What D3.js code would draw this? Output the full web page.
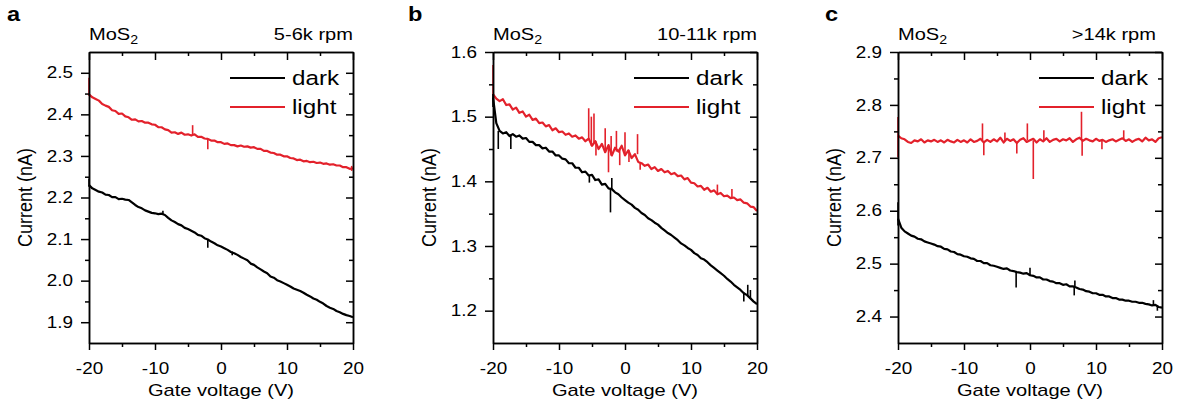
<!DOCTYPE html>
<html>
<head>
<meta charset="utf-8">
<script src="https://cdn.jsdelivr.net/npm/d3@7"></script>
<style>
  body { margin: 0; background: #fff; }
  text { font-family: "Liberation Sans", Arial, sans-serif; fill: #000; }
</style>
</head>
<body>
<svg id="chart" width="1180" height="409"></svg>
<script>
// gate voltage sweep (V)
const voltage = [-20,-19.5,-19,-18.5,-18,-17.5,-17,-16.5,-16,-15.5,
  -15,-14.5,-14,-13.5,-13,-12.5,-12,-11.5,-11,-10.5,
  -10,-9.5,-9,-8.5,-8,-7.5,-7,-6.5,-6,-5.5,
  -5,-4.5,-4,-3.5,-3,-2.5,-2,-1.5,-1,-0.5,
  0,0.5,1,1.5,2,2.5,3,3.5,4,4.5,
  5,5.5,6,6.5,7,7.5,8,8.5,9,9.5,
  10,10.5,11,11.5,12,12.5,13,13.5,14,14.5,
  15,15.5,16,16.5,17,17.5,18,18.5,19,19.5,
  20];

// panel a : 5-6k rpm
const lightA = [2.448,2.441,2.437,2.433,2.425,2.421,2.418,2.410,2.408,2.401,
  2.402,2.395,2.393,2.387,2.388,2.383,2.384,2.380,2.380,2.376,
  2.375,2.369,2.369,2.364,2.362,2.356,2.357,2.353,2.356,2.351,
  2.352,2.349,2.352,2.346,2.346,2.342,2.341,2.337,2.337,2.333,
  2.333,2.329,2.330,2.326,2.326,2.323,2.325,2.322,2.323,2.320,
  2.321,2.317,2.317,2.312,2.312,2.308,2.307,2.303,2.303,2.299,
  2.299,2.295,2.294,2.290,2.291,2.287,2.288,2.285,2.286,2.283,
  2.284,2.281,2.282,2.279,2.280,2.277,2.277,2.273,2.273,2.269,
  2.270];
const darkA = [2.230,2.222,2.218,2.214,2.212,2.207,2.206,2.201,2.201,2.196,
  2.197,2.195,2.194,2.188,2.182,2.177,2.174,2.169,2.166,2.163,
  2.162,2.160,2.161,2.158,2.151,2.145,2.141,2.136,2.133,2.127,
  2.124,2.120,2.116,2.110,2.108,2.102,2.099,2.094,2.090,2.085,
  2.082,2.078,2.074,2.069,2.066,2.062,2.057,2.053,2.049,2.041,
  2.038,2.032,2.027,2.022,2.018,2.010,2.007,2.001,1.998,1.994,
  1.990,1.986,1.981,1.978,1.975,1.971,1.966,1.962,1.957,1.954,
  1.949,1.945,1.939,1.935,1.932,1.927,1.924,1.920,1.917,1.915,
  1.912];
// spikes: [voltage, from, to]
const lightSpikesA = [[-20, 2.445, 2.488], [-4.3, 2.350, 2.374], [-2.0, 2.341, 2.316], [19.8, 2.264, 2.276]];
const darkSpikesA = [[-20, 2.226, 2.246], [-8.8, 2.158, 2.168], [-2.0, 2.100, 2.079], [1.7, 2.070, 2.061]];

// panel b : 10-11k rpm
const lightB = [1.535,1.528,1.524,1.527,1.518,1.519,1.511,1.514,1.506,1.508,
  1.500,1.503,1.495,1.497,1.490,1.491,1.485,1.487,1.479,1.482,
  1.476,1.477,1.472,1.474,1.469,1.471,1.466,1.468,1.462,1.466,
  1.455,1.462,1.450,1.458,1.445,1.456,1.440,1.452,1.446,1.455,
  1.440,1.448,1.436,1.442,1.430,1.428,1.424,1.426,1.419,1.422,
  1.416,1.419,1.414,1.416,1.411,1.413,1.408,1.409,1.403,1.405,
  1.398,1.397,1.392,1.393,1.387,1.390,1.384,1.386,1.380,1.382,
  1.377,1.378,1.374,1.375,1.371,1.372,1.367,1.366,1.361,1.360,
  1.354];
const darkB = [1.530,1.490,1.478,1.474,1.476,1.470,1.473,1.469,1.471,1.466,
  1.467,1.461,1.461,1.456,1.456,1.451,1.452,1.446,1.446,1.440,
  1.440,1.435,1.434,1.428,1.428,1.421,1.421,1.414,1.415,1.409,
  1.410,1.402,1.403,1.395,1.396,1.389,1.388,1.383,1.380,1.375,
  1.371,1.367,1.364,1.359,1.356,1.351,1.348,1.343,1.340,1.336,
  1.333,1.328,1.324,1.320,1.317,1.313,1.309,1.304,1.301,1.297,
  1.294,1.289,1.286,1.281,1.279,1.275,1.270,1.266,1.262,1.258,
  1.254,1.249,1.245,1.240,1.236,1.232,1.227,1.224,1.219,1.214,
  1.210];
const lightSpikesB = [[-20, 1.530, 1.580], [-5.5, 1.465, 1.513], [-5.1, 1.455, 1.500], [-4.7, 1.460, 1.505],
  [-4.4, 1.462, 1.440], [-3.0, 1.445, 1.482], [-2.5, 1.456, 1.414], [-2.1, 1.440, 1.470],
  [-1.3, 1.446, 1.478], [-0.8, 1.450, 1.425], [0.0, 1.440, 1.476], [0.6, 1.448, 1.430],
  [1.9, 1.442, 1.473], [2.3, 1.430, 1.418], [14.0, 1.381, 1.395], [16.2, 1.374, 1.388]];
const darkSpikesB = [[-20, 1.515, 1.535], [-19.2, 1.478, 1.450], [-17.3, 1.472, 1.450], [-5.4, 1.409, 1.398],
  [-2.2, 1.389, 1.352], [-2.0, 1.388, 1.405], [18.0, 1.228, 1.214], [18.6, 1.224, 1.240], [19.0, 1.219, 1.232]];

// panel c : >14k rpm
const lightC = [2.742,2.737,2.735,2.730,2.728,2.733,2.731,2.735,2.729,2.733,
  2.731,2.734,2.730,2.733,2.729,2.734,2.731,2.729,2.734,2.730,
  2.733,2.729,2.735,2.730,2.732,2.736,2.729,2.734,2.730,2.735,
  2.731,2.738,2.729,2.736,2.732,2.735,2.728,2.734,2.737,2.730,
  2.733,2.736,2.729,2.735,2.731,2.737,2.730,2.734,2.736,2.731,
  2.735,2.733,2.737,2.730,2.735,2.738,2.732,2.736,2.733,2.731,
  2.736,2.732,2.734,2.730,2.733,2.735,2.731,2.734,2.737,2.732,
  2.735,2.730,2.734,2.736,2.731,2.738,2.733,2.735,2.730,2.737,
  2.739];
const darkC = [2.585,2.568,2.561,2.557,2.553,2.551,2.547,2.546,2.542,2.540,
  2.538,2.536,2.533,2.532,2.528,2.527,2.523,2.522,2.518,2.517,
  2.514,2.513,2.510,2.509,2.505,2.505,2.501,2.501,2.497,2.496,
  2.494,2.492,2.490,2.491,2.487,2.486,2.484,2.483,2.481,2.482,
  2.478,2.477,2.474,2.474,2.470,2.470,2.467,2.466,2.463,2.463,
  2.460,2.461,2.457,2.457,2.455,2.452,2.451,2.448,2.447,2.444,
  2.444,2.441,2.441,2.438,2.438,2.435,2.435,2.432,2.432,2.430,
  2.430,2.428,2.428,2.426,2.426,2.424,2.423,2.421,2.422,2.418,
  2.417];
const lightSpikesC = [[-20, 2.701, 2.777], [-7.2, 2.733, 2.765], [-7.0, 2.732, 2.705], [-3.8, 2.733, 2.748],
  [-2.0, 2.730, 2.708], [-0.4, 2.733, 2.765], [0.5, 2.733, 2.660], [2.1, 2.733, 2.752],
  [7.8, 2.735, 2.787], [7.9, 2.735, 2.704], [10.9, 2.733, 2.716], [14.2, 2.734, 2.752]];
const darkSpikesC = [[-20, 2.572, 2.616], [-2.1, 2.485, 2.455], [0.0, 2.478, 2.492], [6.7, 2.457, 2.440],
  [6.8, 2.457, 2.468], [18.7, 2.421, 2.431], [19.3, 2.420, 2.411]];

// axes
const xMajor = [-20, -10, 0, 10, 20];
const xMinor = [-15, -5, 5, 15];
const yDomainA = [1.85, 2.55], yMajorA = [1.9, 2.0, 2.1, 2.2, 2.3, 2.4, 2.5], yMinorA = [1.95, 2.05, 2.15, 2.25, 2.35, 2.45];
const yDomainB = [1.15, 1.6], yMajorB = [1.2, 1.3, 1.4, 1.5, 1.6], yMinorB = [1.25, 1.35, 1.45, 1.55];
const yDomainC = [2.35, 2.9], yMajorC = [2.4, 2.5, 2.6, 2.7, 2.8, 2.9], yMinorC = [2.45, 2.55, 2.65, 2.75, 2.85];
const letters = ["a", "b", "c"];
const speeds = ["5-6k rpm", "10-11k rpm", ">14k rpm"];
const seriesNames = ["dark", "light"];

const panels = [
  { letter: letters[0], speed: speeds[0], yDomain: yDomainA, yMajor: yMajorA, yMinor: yMinorA,
    dark: darkA, light: lightA, darkSpikes: darkSpikesA, lightSpikes: lightSpikesA },
  { letter: letters[1], speed: speeds[1], yDomain: yDomainB, yMajor: yMajorB, yMinor: yMinorB,
    dark: darkB, light: lightB, darkSpikes: darkSpikesB, lightSpikes: lightSpikesB },
  { letter: letters[2], speed: speeds[2], yDomain: yDomainC, yMajor: yMajorC, yMinor: yMinorC,
    dark: darkC, light: lightC, darkSpikes: darkSpikesC, lightSpikes: lightSpikesC }
];

// layout of the three boxes
const layout = [
  { left: 89, letterX: 7, speedShift: 0 },
  { left: 493, letterX: 408, speedShift: 0 },
  { left: 898, letterX: 825, speedShift: -6 }
];
const plotW = 264, plotTop = 52, plotBottom = 343;
const RED = "#e3212b";
const STRETCH = 1.18; // the original figure is a bit wider than tall

const svg = d3.select("#chart");
svg.append("rect").attr("width", 1180).attr("height", 409).attr("fill", "#fff");

function widen(sel) {
  sel.each(function () {
    const w = this.getComputedTextLength();
    d3.select(this).attr("textLength", w * STRETCH).attr("lengthAdjust", "spacingAndGlyphs");
  });
}

function styleAxis(g) {
  g.selectAll("path, line").attr("stroke", "#000").attr("stroke-width", 1.5);
  g.selectAll("text").attr("font-size", 16).attr("fill", "#000")
    .style("font-family", "'Liberation Sans', Arial, sans-serif");
}

// plain hyphen for negative numbers, like the original
const fmtX = d => String(d);

panels.forEach((p, i) => {
  const L = layout[i];
  const left = L.left, right = L.left + plotW;

  const x = d3.scaleLinear().domain([-20, 20]).range([left, right]);
  const y = d3.scaleLinear().domain(p.yDomain).range([plotBottom, plotTop]);

  const line = d3.line().x(d => x(d[0])).y(d => y(d[1]));

  // curves
  const darkPts = voltage.map((v, k) => [v, p.dark[k]]);
  const lightPts = voltage.map((v, k) => [v, p.light[k]]);

  [[lightPts, p.lightSpikes, RED], [darkPts, p.darkSpikes, "#000"]].forEach(([pts, spikes, col]) => {
    svg.append("path")
      .datum(pts)
      .attr("d", line)
      .attr("fill", "none")
      .attr("stroke", col)
      .attr("stroke-width", 2.2)
      .attr("stroke-linejoin", "round");

    svg.selectAll(null)
      .data(spikes)
      .enter().append("line")
      .attr("x1", d => x(d[0])).attr("x2", d => x(d[0]))
      .attr("y1", d => y(d[1])).attr("y2", d => y(d[2]))
      .attr("stroke", col)
      .attr("stroke-width", 1.6);
  });

  // axes: ticks out on left/bottom, in on top/right
  const gB = svg.append("g").attr("transform", `translate(0,${plotBottom})`);
  gB.append("g").call(d3.axisBottom(x).tickValues(xMajor).tickSize(7).tickSizeOuter(0)
    .tickPadding(12.5).tickFormat(fmtX));
  gB.append("g").call(d3.axisBottom(x).tickValues(xMinor).tickSize(4).tickSizeOuter(0).tickFormat(""));
  styleAxis(gB);

  const gT = svg.append("g").attr("transform", `translate(0,${plotTop})`);
  gT.append("g").call(d3.axisTop(x).tickValues(xMajor).tickSize(-8).tickSizeOuter(0).tickFormat(""));
  gT.append("g").call(d3.axisTop(x).tickValues(xMinor).tickSize(-4).tickSizeOuter(0).tickFormat(""));
  styleAxis(gT);

  const gL = svg.append("g").attr("transform", `translate(${left},0)`);
  gL.append("g").call(d3.axisLeft(y).tickValues(p.yMajor).tickSize(8).tickSizeOuter(0)
    .tickPadding(8).tickFormat(d3.format(".1f")));
  gL.append("g").call(d3.axisLeft(y).tickValues(p.yMinor).tickSize(4).tickSizeOuter(0).tickFormat(""));
  styleAxis(gL);

  const gR = svg.append("g").attr("transform", `translate(${right},0)`);
  gR.append("g").call(d3.axisRight(y).tickValues(p.yMajor).tickSize(-7).tickSizeOuter(0).tickFormat(""));
  gR.append("g").call(d3.axisRight(y).tickValues(p.yMinor).tickSize(-4).tickSizeOuter(0).tickFormat(""));
  styleAxis(gR);

  widen(gB.selectAll("text"));
  widen(gL.selectAll("text"));

  // legend
  const leg = svg.append("g");
  seriesNames.forEach((name, k) => {
    const ly = 78 + k * 29;
    leg.append("line")
      .attr("x1", left + 141).attr("x2", left + 196)
      .attr("y1", ly).attr("y2", ly)
      .attr("stroke", k === 0 ? "#000" : RED)
      .attr("stroke-width", 2);
    leg.append("text")
      .attr("x", left + 203).attr("y", ly + 7)
      .attr("font-size", 20.5)
      .text(name);
  });
  widen(leg.selectAll("text"));

  // headings
  const mo = svg.append("text").attr("x", left).attr("y", 40).attr("font-size", 17);
  mo.append("tspan").text("MoS");
  mo.append("tspan").attr("font-size", 12).attr("dy", 4).text("2");
  widen(mo);

  const sp = svg.append("text")
    .attr("x", right + L.speedShift).attr("y", 40)
    .attr("text-anchor", "end")
    .attr("font-size", 17)
    .text(p.speed);
  widen(sp);

  const lt = svg.append("text")
    .attr("x", L.letterX).attr("y", 21)
    .attr("font-size", 20)
    .attr("font-weight", "bold")
    .text(p.letter);
  widen(lt);

  // axis titles
  const xt = svg.append("text")
    .attr("x", (left + right) / 2).attr("y", 396)
    .attr("text-anchor", "middle")
    .attr("font-size", 17)
    .text("Gate voltage (V)");
  widen(xt);

  svg.append("text")
    .attr("transform", `translate(${left - 57},${(plotTop + plotBottom) / 2}) rotate(-90) scale(1,1.12)`)
    .attr("text-anchor", "middle")
    .attr("font-size", 18)
    .text("Current (nA)");
});
</script>
</body>
</html>
